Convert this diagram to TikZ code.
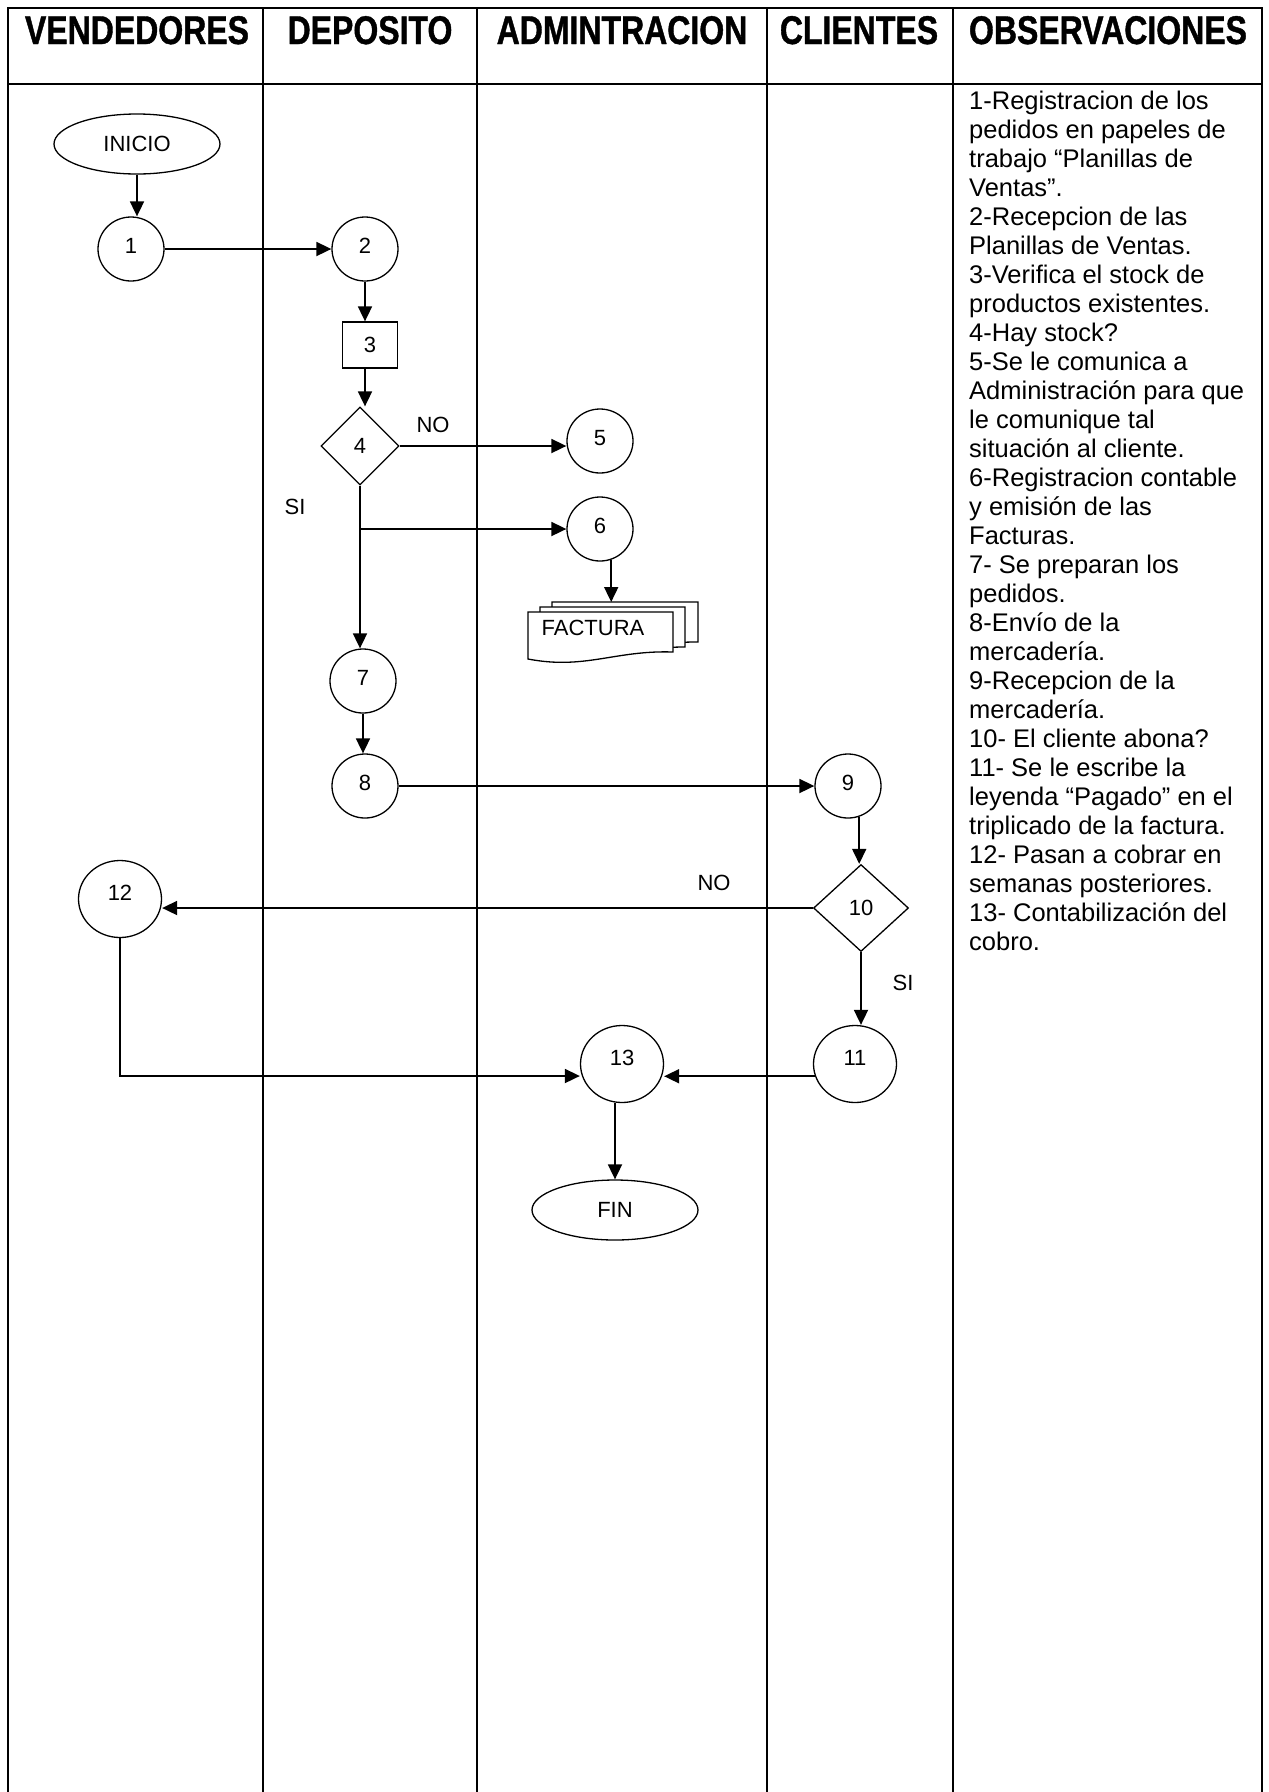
\documentclass[tikz,border=0pt]{standalone}
\usepackage{fontspec}
\setmainfont{Liberation Sans}
\newfontfamily\hdrfamily[FakeStretch=0.8,FakeBold=1]{Liberation Sans}
\usetikzlibrary{shapes.geometric,arrows.meta,calc}
\newcommand{\labfont}{\fontsize{22}{24}\selectfont}
\newcommand{\hdrfont}{\hdrfamily\fontsize{40}{42}\selectfont\bfseries}
\newcommand{\obsfont}{\fontsize{25.5}{29}\selectfont}
\tikzset{
  tbl/.style={line width=1.8pt},
  circ/.style={draw, ellipse, line width=1.3pt, inner sep=0pt, minimum width=66pt, minimum height=64pt, font=\labfont, text height=12pt, text depth=4pt},
  bigc/.style={draw, ellipse, line width=1.3pt, inner sep=0pt, minimum width=83pt, minimum height=77pt, font=\labfont, text height=9pt, text depth=7pt},
  term/.style={draw, ellipse, line width=1.3pt, inner sep=0pt, minimum width=166pt, minimum height=60pt, font=\labfont},
  dec/.style={draw, diamond, line width=1.3pt, inner sep=0pt, minimum width=78pt, minimum height=78pt, font=\labfont},
  procbox/.style={draw, rectangle, line width=1.3pt, inner sep=0pt, minimum width=55pt, minimum height=46pt, font=\labfont},
  lbl/.style={inner sep=0pt, font=\labfont},
  hdr/.style={inner sep=0pt, anchor=base, font=\hdrfont},
  arr/.style={line width=1.8pt, -{Triangle[length=15pt,width=14pt]}},
  doc/.style={draw, line width=1.3pt, fill=white},
}
\begin{document}
\begin{tikzpicture}[x=1pt,y=-1pt]
\useasboundingbox (0,0) rectangle (1269,1792);
% table
\draw[tbl] (8,1792) -- (8,8) -- (1262,8) -- (1262,1792);
\draw[tbl] (8,84) -- (1262,84);
\foreach \xx in {263,477,767,953} \draw[tbl] (\xx,8) -- (\xx,1792);
% headers
\node[hdr] (h1) at (137,44) {VENDEDORES};
\node[hdr] (h2) at (370,44) {DEPOSITO};
\node[hdr] (h3) at (622,44) {ADMINTRACION};
\node[hdr] (h4) at (859,44) {CLIENTES};
\node[hdr] (h5) at (1108,44) {OBSERVACIONES};
% observations
\node[anchor=north west, inner sep=0pt, align=left, font=\obsfont] (obs) at (969,91) {%
1-Registracion de los\\
pedidos en papeles de\\
trabajo “Planillas de\\
Ventas”.\\
2-Recepcion de las\\
Planillas de Ventas.\\
3-Verifica el stock de\\
productos existentes.\\
4-Hay stock?\\
5-Se le comunica a\\
Administración para que\\
le comunique tal\\
situación al cliente.\\
6-Registracion contable\\
y emisión de las\\
Facturas.\\
7- Se preparan los\\
pedidos.\\
8-Envío de la\\
mercadería.\\
9-Recepcion de la\\
mercadería.\\
10- El cliente abona?\\
11- Se le escribe la\\
leyenda “Pagado” en el\\
triplicado de la factura.\\
12- Pasan a cobrar en\\
semanas posteriores.\\
13- Contabilización del\\
cobro.};
% nodes
\node[term] (inicio) at (137,144) {INICIO};
\node[circ] (c1) at (131,249) {1};
\node[circ] (c2) at (365,249) {2};
\node[procbox] (r3) at (370,345) {3};
\node[dec] (d4) at (360,446) {4};
\node[circ] (c5) at (600,441) {5};
\node[circ] (c6) at (600,529) {6};
\node[circ] (c7) at (363,681) {7};
\node[circ] (c8) at (365,786) {8};
\node[circ] (c9) at (848,786) {9};
\node[dec, minimum width=95pt, minimum height=87pt] (d10) at (861,908) {10};
\node[bigc] (c12) at (120,899) {12};
\node[bigc] (c11) at (855,1064) {11};
\node[bigc] (c13) at (622,1064) {13};
\node[term] (fin) at (615,1210) {FIN};
% document stack
\draw[doc] (552,602) -- (698,602) -- (698,642) .. controls (680,642) and (670,643) .. (660,644) -- (552,644) -- cycle;
\draw[doc] (540,607) -- (685,607) -- (685,647) .. controls (670,647) and (660,648) .. (650,649) -- (540,649) -- cycle;
\draw[doc] (528,612) -- (673,612) -- (673,652) .. controls (615,650) and (585,670) .. (528,659) -- cycle;
\node[lbl] (fact) at (593,628) {FACTURA};
\coordinate (facttop) at (611,602);
% labels
\node[lbl] (no1) at (433,425) {NO};
\node[lbl] (si1) at (295,507) {SI};
\node[lbl] (no2) at (714,883) {NO};
\node[lbl] (si2) at (903,983) {SI};
% connectors
\draw[arr] (inicio.south) -- (inicio.south |- c1.north);
\draw[arr] (c1.east) -- (c2.west);
\draw[arr] (c2.south) -- (c2.south |- r3.north);
\draw[arr] (r3.south -| c2.south) -- (c2.south |- d4.north);
\draw[arr] (d4.east) -- (d4.east -| c5.west);
\draw[arr] (d4.south) -- (d4.south |- c7.north);
\coordinate (j) at (d4.south |- c6.west);
\draw[arr] (j) -- (c6.west);
\draw[arr] (c6.-70) -- (c6.-70 |- facttop);
\draw[arr] (c7.south) -- (c7.south |- c8.north);
\draw[arr] (c8.east) -- (c8.east -| c9.west);
\draw[arr] (c9.-70) -- (c9.-70 |- d10.north);
\draw[arr] (d10.west) -- (d10.west -| c12.east);
\draw[arr] (d10.south) -- (d10.south |- c11.north);
\draw[arr] (c11.197) -- (c11.197 -| c13.east);
\draw[arr] (c12.south) |- ($(c13.west)+(0,12)$);
\draw[arr] (fin.north |- c13.south) -- (fin.north);
\end{tikzpicture}
\end{document}
